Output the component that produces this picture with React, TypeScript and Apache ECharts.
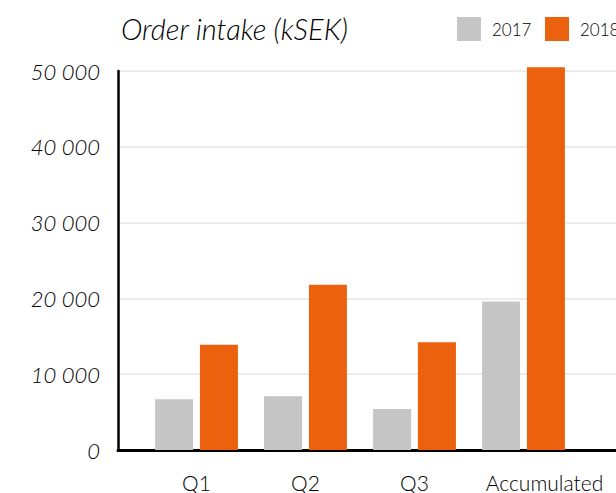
import React, { useEffect, useRef } from "react";
import * as echarts from "echarts";

const categories = ["Q1", "Q2", "Q3", "Accumulated"];
const values2017 = [6700, 7100, 5400, 19600];
const values2018 = [13900, 21800, 14200, 50500];
const yTicks = [0, 10000, 20000, 30000, 40000, 50000];

const FONT = "Lato, 'Open Sans', sans-serif";

export default function App() {
  const ref = useRef<HTMLDivElement>(null);
  useEffect(() => {
    if (!ref.current) return;
    const chart = echarts.init(ref.current, undefined, { renderer: "svg" });
    const fmt = (v: number) => {
      const s = String(Math.round(v));
      return s.replace(/\B(?=(\d{3})+(?!\d))/g, " ");
    };
    const legendBase = {
      orient: "horizontal",
      top: 17,
      padding: 0,
      itemWidth: 24,
      itemHeight: 24,
      icon: "rect",
      textStyle: {
        fontFamily: FONT,
        fontSize: 17,
        fontWeight: 300,
        color: "#000",
        padding: [0, 0, 0, 6],
      },
    };
    chart.setOption({
      animation: false,
      backgroundColor: "#ffffff",
      title: {
        text: "Order intake (kSEK)",
        left: 116,
        top: 9,
        textStyle: {
          fontFamily: FONT,
          fontStyle: "italic",
          fontWeight: 300,
          fontSize: 29,
          color: "#000",
        },
      },
      legend: [
        { ...legendBase, left: 457, data: ["2017"] },
        { ...legendBase, left: 545, data: ["2018"] },
      ],
      grid: [
        { left: 142, right: 38, top: 71, bottom: 43 },
        { left: 118, right: -60, top: 71, bottom: 43 },
      ],
      xAxis: [
        {
          type: "category",
          gridIndex: 0,
          data: categories,
          axisLine: { show: false },
          axisTick: { show: false },
          axisLabel: {
            interval: 0,
            margin: 22,
            fontFamily: FONT,
            fontWeight: 300,
            fontSize: 21,
            lineHeight: 20,
            color: "#000",
            formatter: (v: string, i: number) =>
              i === categories.length - 1 ? "{acc|" + v + "}" : v,
            rich: {
              acc: {
                fontFamily: FONT,
                fontWeight: 300,
                fontSize: 21,
                lineHeight: 20,
                color: "#000",
                padding: [0, 0, 0, 42],
              },
            },
          },
        },
        {
          type: "value",
          gridIndex: 1,
          min: 0,
          max: 1,
          axisLine: { show: true, lineStyle: { color: "#000", width: 3 } },
          axisTick: { show: false },
          axisLabel: { show: false },
          splitLine: { show: false },
        },
      ],
      yAxis: [
        {
          type: "value",
          gridIndex: 0,
          min: 0,
          max: 50000,
          interval: 10000,
          show: false,
          splitLine: { show: false },
        },
        {
          type: "value",
          gridIndex: 1,
          min: yTicks[0],
          max: yTicks[yTicks.length - 1],
          interval: 10000,
          axisLine: { show: true, lineStyle: { color: "#000", width: 2.5 } },
          axisTick: { show: false },
          axisLabel: {
            margin: 18,
            fontFamily: FONT,
            fontStyle: "italic",
            fontWeight: 300,
            fontSize: 22,
            color: "#000",
            formatter: (v: number) => fmt(v),
          },
          splitLine: { show: true, lineStyle: { color: "#ebebeb", width: 2 } },
        },
      ],
      series: [
        {
          name: "2017",
          type: "bar",
          xAxisIndex: 0,
          yAxisIndex: 0,
          data: values2017,
          barWidth: 38,
          barGap: "18%",
          clip: false,
          itemStyle: { color: "#c5c5c5" },
          z: 1,
        },
        {
          name: "2018",
          type: "bar",
          xAxisIndex: 0,
          yAxisIndex: 0,
          data: values2018,
          barWidth: 38,
          barGap: "18%",
          clip: false,
          itemStyle: { color: "#ec610d" },
          z: 1,
        },
      ],
    });
    return () => chart.dispose();
  }, []);
  return (
    <div
      ref={ref}
      style={{ position: "fixed", left: 0, top: 0, width: 616, height: 493 }}
    />
  );
}
